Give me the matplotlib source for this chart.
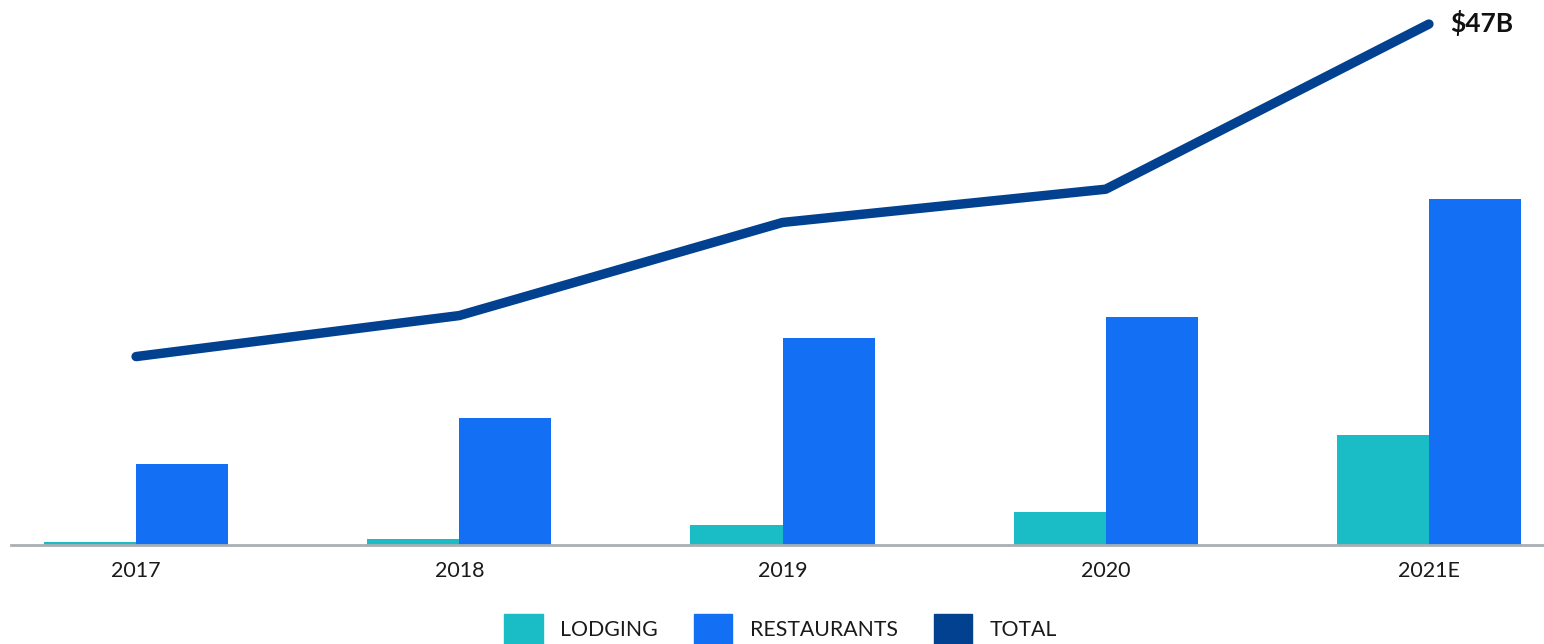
import numpy as np
import matplotlib
matplotlib.use("Agg")
from matplotlib import pyplot as plt
from matplotlib.patches import Patch

plt.rcParams['font.family'] = ['Lato', 'DejaVu Sans']

# spending by year, $B
years = ["2017", "2018", "2019", "2020", "2021E"]
lodging = [0.27, 0.54, 1.8, 3.0, 9.9]
restaurants = [7.3, 11.5, 18.7, 20.6, 31.2]
total = [17.0, 20.7, 29.1, 32.1, 47.0]

teal = "#1ABCC5"
blue = "#136FF4"
navy = "#02418F"

fig = plt.figure(figsize=(15.44, 6.44), dpi=100)
ax = fig.add_axes([11 / 1544, 99 / 644, 1 - 11 / 1544, 545 / 644])

x = np.arange(len(years))
w = 0.285
ax.bar(x - w / 2, lodging, w, color=teal, edgecolor="none")
ax.bar(x + w / 2, restaurants, w, color=blue, edgecolor="none")
ax.plot(x, total, color=navy, lw=6.8, solid_capstyle="round",
        solid_joinstyle="round", clip_on=False, zorder=3)

ax.annotate(f"${total[-1]:.0f}B", (x[-1], total[-1]), xytext=(15, -5.8),
            textcoords="offset points", fontsize=19, fontweight="bold",
            va="baseline", ha="left", color="#111111")

ax.set_xlim(-0.387, 4.356)
ax.set_ylim(0, 49.17)
ax.set_xticks(x)
ax.set_xticklabels(years, fontsize=15.5, color="#1a1a1a")
ax.set_yticks([])
ax.tick_params(axis="x", length=0, pad=11.5)
for s in ["top", "left", "right"]:
    ax.spines[s].set_visible(False)
ax.spines["bottom"].set_color("#A9AFB3")
ax.spines["bottom"].set_linewidth(2)

# legend sits low, partly cut by the figure edge
handles = [Patch(color=teal), Patch(color=blue), Patch(color=navy)]
fig.legend(handles, ["LODGING", "RESTAURANTS", "TOTAL"], loc="center",
           bbox_to_anchor=(0.5055, 0.0225), ncol=3, frameon=False,
           fontsize=15.3, handlelength=1.8, handleheight=1.8,
           handletextpad=0.82, columnspacing=1.7, borderpad=0,
           borderaxespad=0, labelcolor="#1a1a1a")

fig.savefig("out.png", dpi=100)
